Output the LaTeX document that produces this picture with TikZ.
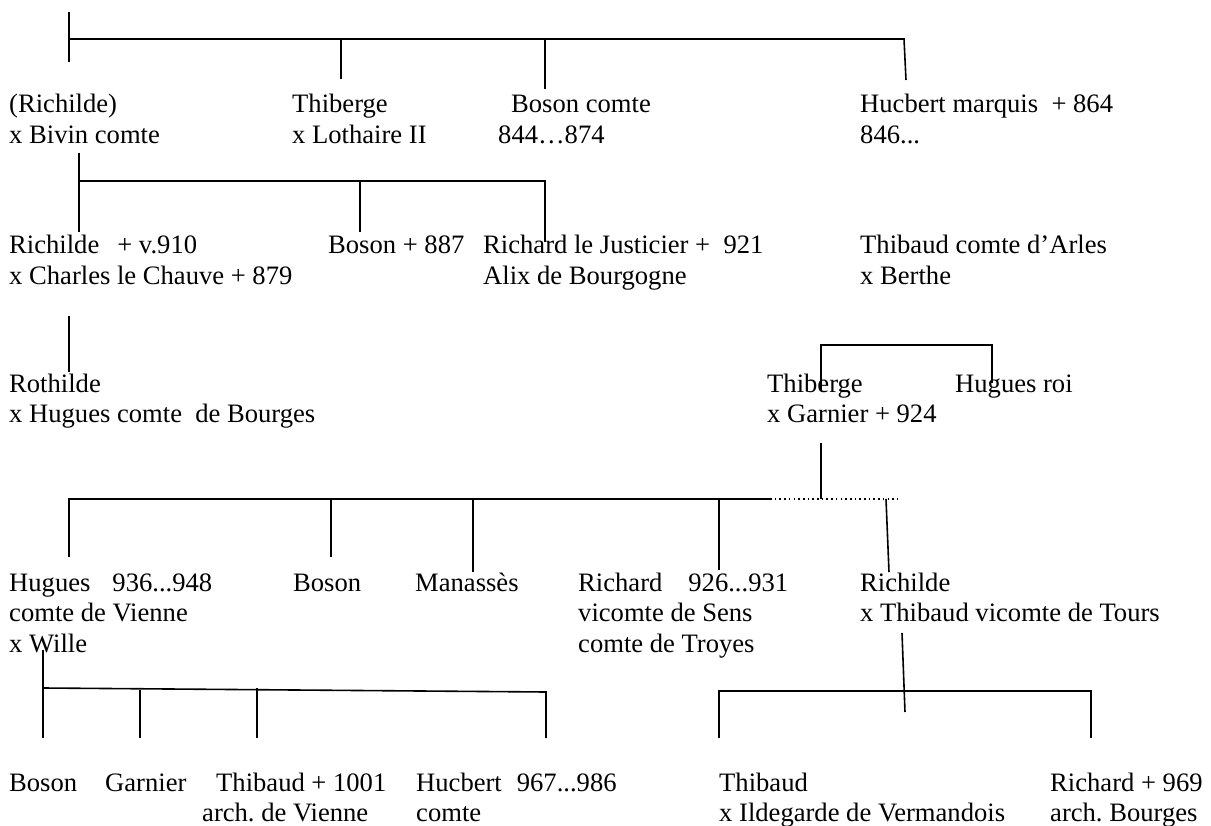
\documentclass[tikz,border=0pt]{standalone}
\usepackage{fontspec}
\setmainfont{Liberation Serif}
\frenchspacing
\newcommand{\ppl}[1]{\begin{tabular}[t]{@{}l@{}}#1\end{tabular}}
\begin{document}
\begin{tikzpicture}[x=1pt,y=-1pt,
  person/.style={anchor=base west, inner sep=0pt,
    font=\fontsize{26.6}{30.6}\selectfont},
  link/.style={line width=1.6pt, line cap=butt},
  dotlink/.style={line width=1.6pt, dash pattern=on 1.6pt off 3.1pt}]
\useasboundingbox (0,0) rectangle (1211,826);
\fill[white] (0,0) rectangle (1211,826);

% ---------- people ----------
\node[person] (richA) at (9,113) {\ppl{(Richilde)\\x Bivin comte}};
\node[person] (thibA) at (292,113) {\ppl{Thiberge\\x Lothaire II}};
\node[person] (bosA) at (498,113) {\ppl{\hspace*{13pt}Boson comte\\844…874}};
\node[person] (hucA) at (860,113) {\ppl{Hucbert marquis\ \ + 864\\846...}};

\node[person] (richB) at (9,254) {\ppl{Richilde\hspace{18pt}+ v.910\\x Charles le Chauve + 879}};
\node[person] (bosB) at (328,254) {Boson + 887};
\node[person] (ricB) at (483,254) {\ppl{Richard le Justicier +\ \ 921\\Alix de Bourgogne}};
\node[person] (thbB) at (860,254) {\ppl{Thibaud comte d’Arles\\x Berthe}};

\node[person] (rothC) at (9,392) {\ppl{Rothilde\\x Hugues comte\ \ de Bourges}};
\node[person] (thibC) at (767,392) {\ppl{Thiberge\\x Garnier + 924}};
\node[person] (hugC) at (955,392) {Hugues roi};

\node[person] (hugD) at (9,591) {\ppl{Hugues\hspace{22pt}936...948\\comte de Vienne\\x Wille}};
\node[person] (bosD) at (293,591) {Boson};
\node[person] (manD) at (415,591) {Manassès};
\node[person] (ricD) at (578,591) {\ppl{Richard\hspace{26pt}926...931\\vicomte de Sens\\comte de Troyes}};
\node[person] (richD) at (860,591) {\ppl{Richilde\\x Thibaud vicomte de Tours}};

\node[person] (bosE) at (9,791) {Boson};
\node[person] (garE) at (105,791) {Garnier};
\node[person] (thbE) at (202,791) {\ppl{\hspace*{14pt}Thibaud + 1001\\arch. de Vienne}};
\node[person] (hucE) at (416,791) {\ppl{Hucbert\hspace{15pt}967...986\\comte}};
\node[person] (thbF) at (719,791) {\ppl{Thibaud\\x Ildegarde de Vermandois}};
\node[person] (ricF) at (1050,791) {\ppl{Richard + 969\\arch. Bourges}};

% ---------- tree 1 ----------
\coordinate (t1top) at (69,12);
\coordinate (t1bot) at (69,62);
\coordinate (t1j) at (69,39);
\coordinate (t1r) at (904,39);
\coordinate (t1huc) at (906,80);
\coordinate (t1thj) at (341,39);
\coordinate (t1th) at (341,79);
\coordinate (t1boj) at (545,39);
\coordinate (t1bo) at (545,89);
\draw[link] (t1top) -- (t1bot);
\draw[link] (t1j) -- (t1r) -- (t1huc);
\draw[link] (t1thj) -- (t1th);
\draw[link] (t1boj) -- (t1bo);

% ---------- tree 2 : Bivin ----------
\coordinate (t2top) at (79,153);
\coordinate (t2j) at (79,181);
\coordinate (t2l) at (79,232);
\coordinate (t2r) at (545,181);
\coordinate (t2ric) at (545,242);
\coordinate (t2boj) at (360,181);
\coordinate (t2bo) at (360,232);
\draw[link] (t2top) -- (t2l);
\draw[link] (t2j) -- (t2r) -- (t2ric);
\draw[link] (t2boj) -- (t2bo);

% ---------- Rothilde ----------
\coordinate (t3top) at (69,316);
\coordinate (t3bot) at (69,372);
\draw[link] (t3top) -- (t3bot);

% ---------- Thibaud d'Arles children ----------
\coordinate (t4l) at (821,390);
\coordinate (t4lt) at (821,345);
\coordinate (t4rt) at (992,345);
\coordinate (t4r) at (992,383);
\draw[link] (t4l) -- (t4lt) -- (t4rt) -- (t4r);

% ---------- Garnier children ----------
\coordinate (t5top) at (821,443);
\coordinate (t5j) at (821,499);
\coordinate (t5l) at (69,499);
\coordinate (t5hug) at (69,557);
\coordinate (t5se) at (770,499);
\coordinate (t5de) at (897,499);
\coordinate (t5boj) at (331,499);
\coordinate (t5bo) at (331,557);
\coordinate (t5maj) at (473,500);
\coordinate (t5ma) at (473,572);
\coordinate (t5rij) at (719,500);
\coordinate (t5ri) at (719,570);
\coordinate (t5rhj) at (886,499);
\coordinate (t5rh) at (889,572);
\draw[link] (t5top) -- (t5j);
\draw[link] (t5hug) -- (t5l) -- (t5se);
\draw[dotlink] (t5se) -- (t5de);
\draw[link] (t5boj) -- (t5bo);
\draw[link] (t5maj) -- (t5ma);
\draw[link] (t5rij) -- (t5ri);
\draw[link] (t5rhj) -- (t5rh);

% ---------- Hugues & Wille children ----------
\coordinate (t6top) at (43,650);
\coordinate (t6j) at (43,688);
\coordinate (t6bos) at (43,738);
\coordinate (t6r) at (546,692);
\coordinate (t6huc) at (546,738);
\coordinate (t6gaj) at (140,690);
\coordinate (t6ga) at (140,738);
\coordinate (t6thj) at (257,688);
\coordinate (t6th) at (257,738);
\draw[link] (t6top) -- (t6bos);
\draw[link] (t6j) -- (t6r) -- (t6huc);
\draw[link] (t6gaj) -- (t6ga);
\draw[link] (t6thj) -- (t6th);

% ---------- Richilde & Thibaud children ----------
\coordinate (t7top) at (902,633);
\coordinate (t7bot) at (905,712);
\coordinate (t7l) at (719,738);
\coordinate (t7lt) at (719,691);
\coordinate (t7rt) at (1091,691);
\coordinate (t7r) at (1091,738);
\draw[link] (t7top) -- (t7bot);
\draw[link] (t7l) -- (t7lt) -- (t7rt) -- (t7r);
\end{tikzpicture}
\end{document}
